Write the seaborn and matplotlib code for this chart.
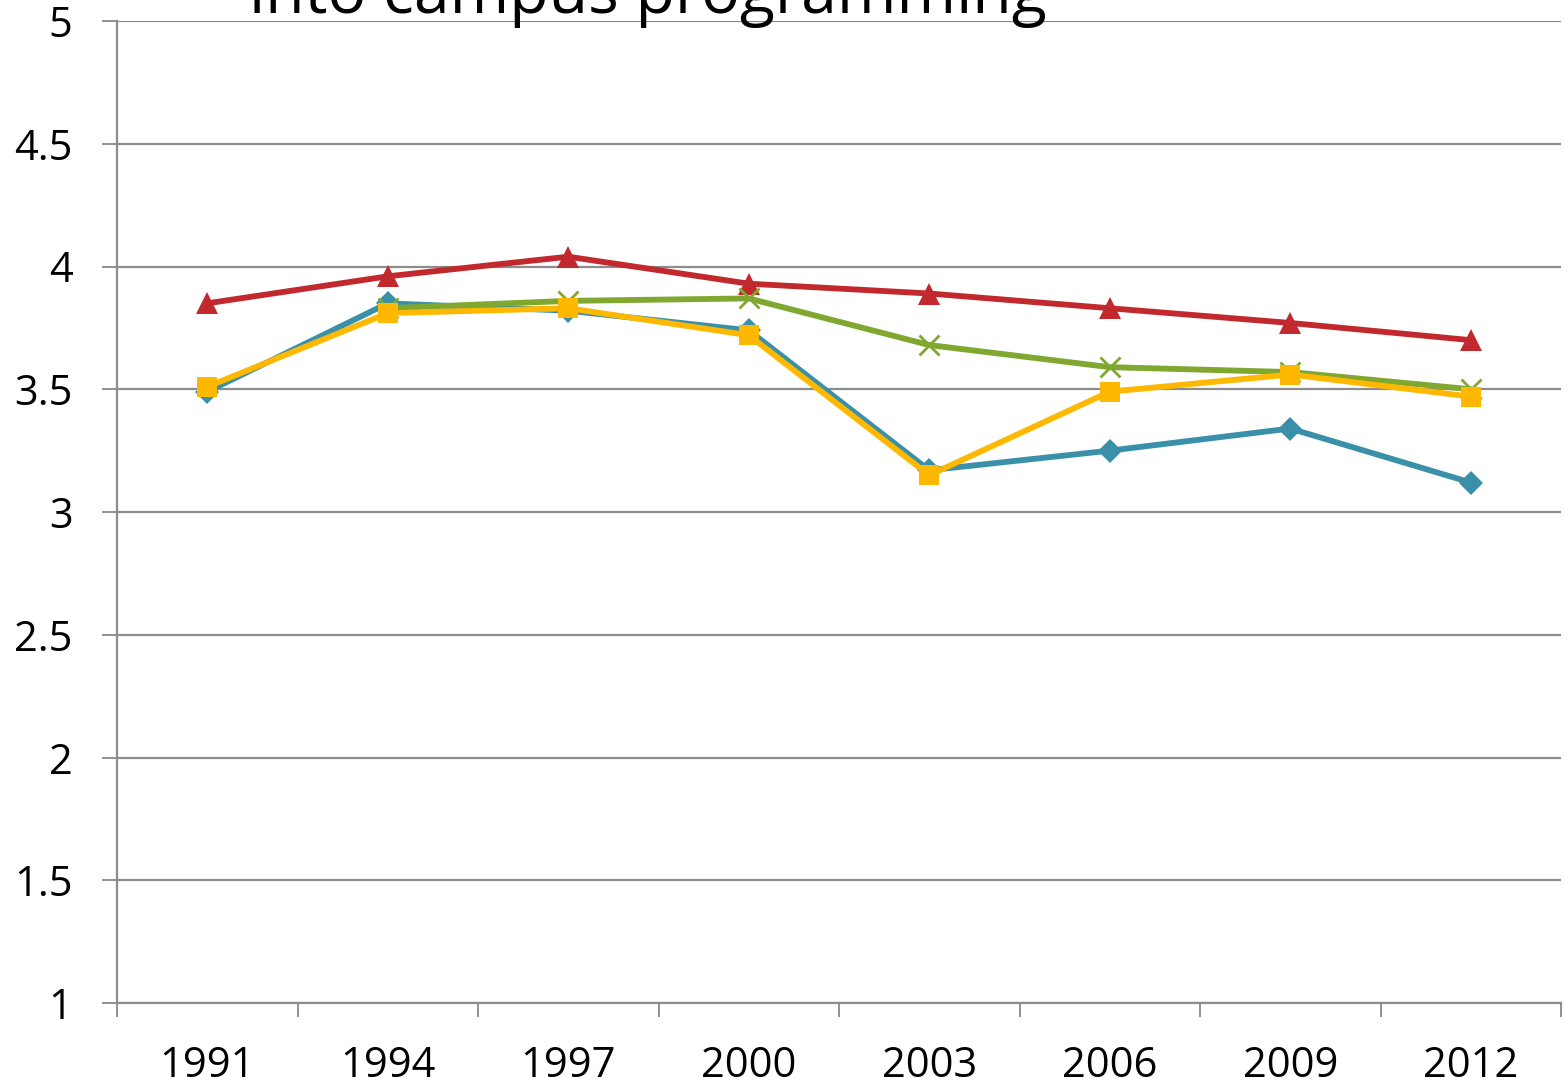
import matplotlib
matplotlib.use("Agg")
import matplotlib.pyplot as plt
import seaborn as sns
import pandas as pd
import numpy as np

years = ["1991", "1994", "1997", "2000", "2003", "2006", "2009", "2012"]

series_teal = [3.49, 3.85, 3.82, 3.74, 3.17, 3.25, 3.34, 3.12]
series_red = [3.85, 3.96, 4.04, 3.93, 3.89, 3.83, 3.77, 3.70]
series_green = [None, 3.83, 3.86, 3.87, 3.68, 3.59, 3.57, 3.50]
series_yellow = [3.51, 3.81, 3.83, 3.72, 3.15, 3.49, 3.56, 3.47]

y_ticks = [1, 1.5, 2, 2.5, 3, 3.5, 4, 4.5, 5]
y_tick_labels = ["1", "1.5", "2", "2.5", "3", "3.5", "4", "4.5", "5"]

sns.set_theme(style="white")
plt.rcParams["font.family"] = ["Open Sans", "DejaVu Sans"]

fig = plt.figure(figsize=(15.65, 10.88), dpi=100)
ax = fig.add_axes([117 / 1565, 1 - 1003 / 1088, (1561 - 117) / 1565, (1003 - 21) / 1088])

pos = np.arange(len(years))
styles = [
    (series_teal, "#3A90A9", "D", 12.5, None),
    (series_red, "#C1292E", "^", 16, None),
    (series_green, "#80A72F", "x", 14, 2.0),
    (series_yellow, "#FFB800", "s", 14, None),
]
for vals, color, marker, ms, mew in styles:
    df = pd.DataFrame({"x": pos, "y": pd.array(vals, dtype="Float64")}).dropna()
    kw = dict(markeredgewidth=mew if mew else 0, markeredgecolor=color)
    sns.lineplot(data=df, x="x", y="y", ax=ax, color=color, linewidth=4.2,
                 marker=marker, markersize=ms, **kw)

ax.set_xlim(-0.5, len(years) - 0.5)
ax.set_ylim(1, 5)
ax.set_xlabel("")
ax.set_ylabel("")

# category boundaries carry tick marks; labels sit at the centres
ax.set_xticks(np.arange(-0.5, len(years), 1.0))
ax.set_xticklabels([])
ax.set_xticks(pos, minor=True)
ax.set_xticklabels(years, minor=True, fontsize=30)
ax.tick_params(axis="x", which="major", length=10, width=1.3, color="#888888", direction="out", bottom=True)
ax.tick_params(axis="x", which="minor", length=0, pad=30.5, labelcolor="black")

ax.set_yticks(y_ticks)
ax.set_yticklabels(y_tick_labels, fontsize=30)
ax.tick_params(axis="y", length=11, width=1.3, color="#888888", direction="out", left=True, pad=21, labelcolor="black")

ax.grid(axis="y", color="#8C8C8C", linewidth=1.6)
ax.grid(axis="x", visible=False)
ax.set_axisbelow(True)
for side in ["top", "right"]:
    ax.spines[side].set_visible(False)
for side in ["left", "bottom"]:
    ax.spines[side].set_color("#8C8C8C")
    ax.spines[side].set_linewidth(1.6)

fig.text(648 / 1565, 1 - 13 / 1088, "into campus programming", fontsize=46.4,
         ha="center", va="baseline", color="black")

fig.savefig("out.png", dpi=100)
